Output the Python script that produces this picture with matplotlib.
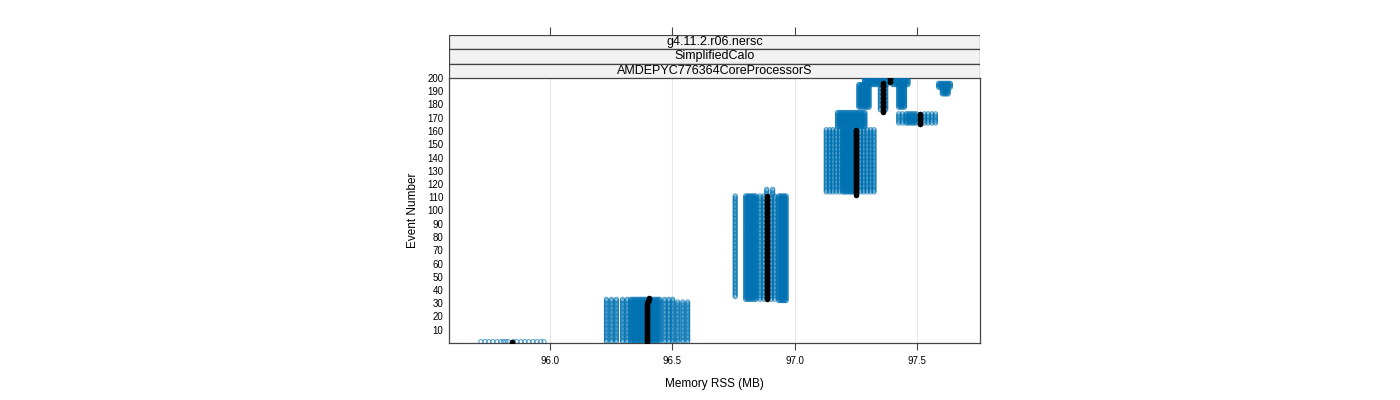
import matplotlib
matplotlib.use("Agg")
import matplotlib.pyplot as plt
from matplotlib.patches import Rectangle

plt.rcParams['font.family'] = ['Liberation Sans', 'DejaVu Sans']

# ---------------- data ----------------
strip_labels = ["g4.11.2.r06.nersc", "SimplifiedCalo", "AMDEPYC776364CoreProcessorS"]
x_ticks = [96.0, 96.5, 97.0, 97.5]
x_tick_labels = ["96.0", "96.5", "97.0", "97.5"]
y_ticks = list(range(10, 201, 10))

# spread of per-run memory values: first event, last event, memory values (MB)
spread_first = [1, 1, 1, 1, 1,
                35, 33, 33, 32, 112,
                114, 114, 114,
                163,
                178, 176, 178, 195,
                166, 166, 166,
                193, 188]
spread_last = [1, 33, 33, 31, 1,
               111, 111, 111, 111, 116,
               161, 161, 161,
               174,
               195, 195, 195, 200,
               173, 173, 173,
               196, 192]
spread_mem = [
    [95.718, 95.735, 95.751, 95.767, 95.784, 95.80, 95.81, 95.82, 95.83,
     95.85, 95.865, 95.882, 95.898, 95.914, 95.931, 95.947, 95.963, 95.976],
    [96.231, 96.252, 96.272, 96.297, 96.316],
    [96.33, 96.337, 96.344, 96.351, 96.358, 96.365, 96.372, 96.379, 96.386,
     96.393, 96.40, 96.407, 96.414, 96.421, 96.428, 96.435, 96.442, 96.449,
     96.469, 96.486, 96.502],
    [96.522, 96.543, 96.563],
    [96.512],
    [96.757],
    [96.80, 96.806, 96.812, 96.818, 96.824, 96.83, 96.836, 96.842],
    [96.858, 96.874, 96.904, 96.918],
    [96.935, 96.941, 96.947, 96.953, 96.959, 96.965],
    [96.886, 96.91],
    [97.129, 97.143, 97.156, 97.170, 97.184],
    [97.196, 97.202, 97.208, 97.214, 97.22, 97.226, 97.232, 97.238, 97.245],
    [97.269, 97.282, 97.296, 97.310, 97.324],
    [97.175, 97.182, 97.189, 97.196, 97.203, 97.21, 97.217, 97.224, 97.231,
     97.238, 97.245, 97.252, 97.259, 97.266, 97.273, 97.28, 97.287],
    [97.262, 97.268, 97.274, 97.28, 97.286, 97.292, 97.298, 97.304],
    [97.35, 97.372],
    [97.425, 97.431, 97.437, 97.443, 97.449],
    [97.285, 97.292, 97.299, 97.306, 97.313, 97.32, 97.327, 97.334, 97.341,
     97.348, 97.355, 97.362, 97.369, 97.376, 97.40, 97.407, 97.414, 97.421,
     97.428, 97.435, 97.442, 97.449, 97.456, 97.463],
    [97.425, 97.44],
    [97.455, 97.462, 97.469, 97.476, 97.483, 97.49, 97.497],
    [97.53, 97.545, 97.56, 97.575],
    [97.588, 97.594, 97.6, 97.606, 97.612, 97.618, 97.624, 97.63, 97.636],
    [97.603, 97.609, 97.615, 97.621, 97.627],
]

# median memory per event: first event, last event, memory (MB)
median_first = [1, 1, 31, 33, 33, 112, 165, 174, 197]
median_last = [1, 30, 32, 34, 111, 161, 173, 196, 200]
median_mem = [95.845, 96.396, 96.400, 96.404, 96.888, 97.25, 97.51, 97.362, 97.39]

# ---------------- figure ----------------
W, H = 1400, 400
fig = plt.figure(figsize=(W / 100, H / 100), dpi=100)

L, R, B, T = 449, 980, 343, 78
ax = fig.add_axes([L / W, 1 - B / H, (R - L) / W, (B - T) / H])

blue = '#0072B2'
xs, ys = [], []
for f, l, mems in zip(spread_first, spread_last, spread_mem):
    for ev in range(f, l + 1):
        for m in mems:
            xs.append(m)
            ys.append(ev)
ax.scatter(xs, ys, s=9, facecolors='none', edgecolors=blue, linewidths=0.7,
           alpha=0.7, zorder=3)

bx, by = [], []
for f, l, m in zip(median_first, median_last, median_mem):
    for ev in range(f, l + 1):
        bx.append(m)
        by.append(ev)
ax.scatter(bx, by, s=16, c='black', linewidths=0, zorder=4)

xlim = (95.588, 97.757)
ax.set_xlim(*xlim)
ax.set_ylim(0, 200)
ax.set_xticks(x_ticks)
ax.set_xticklabels(x_tick_labels, fontsize=7)
ax.set_yticks(y_ticks)
ax.set_yticklabels([str(v) for v in y_ticks], fontsize=7)
ax.tick_params(axis='y', length=0, pad=4)
ax.tick_params(axis='x', length=5, width=0.8, color='#444444', pad=4)
for x in x_ticks:
    ax.axvline(x, color='#e6e6e6', lw=0.8, zorder=1)
for sp in ax.spines.values():
    sp.set_color('#444444')
    sp.set_linewidth(0.9)
ax.set_xlabel("Memory RSS (MB)", fontsize=8.5, labelpad=9)
ax.set_ylabel("Event Number", fontsize=8.5, labelpad=6)

# strips
S_top = 35
sax = fig.add_axes([L / W, 1 - T / H, (R - L) / W, (T - S_top) / H])
sax.set_xlim(*xlim)
sax.set_ylim(0, 3)
for i, lab in enumerate(strip_labels):
    yb = 2 - i
    sax.add_patch(Rectangle((xlim[0], yb), xlim[1] - xlim[0], 1,
                            facecolor='#f2f2f2', edgecolor='#444444', lw=0.9))
    sax.text((xlim[0] + xlim[1]) / 2, yb + 0.5, lab, ha='center', va='center',
             fontsize=9)
sax.set_xticks(x_ticks)
sax.set_xticklabels([])
sax.set_yticks([])
sax.xaxis.tick_top()
sax.tick_params(axis='x', length=6, width=0.8, color='#444444')
for sp in sax.spines.values():
    sp.set_visible(False)

fig.savefig("out.png", dpi=100)
